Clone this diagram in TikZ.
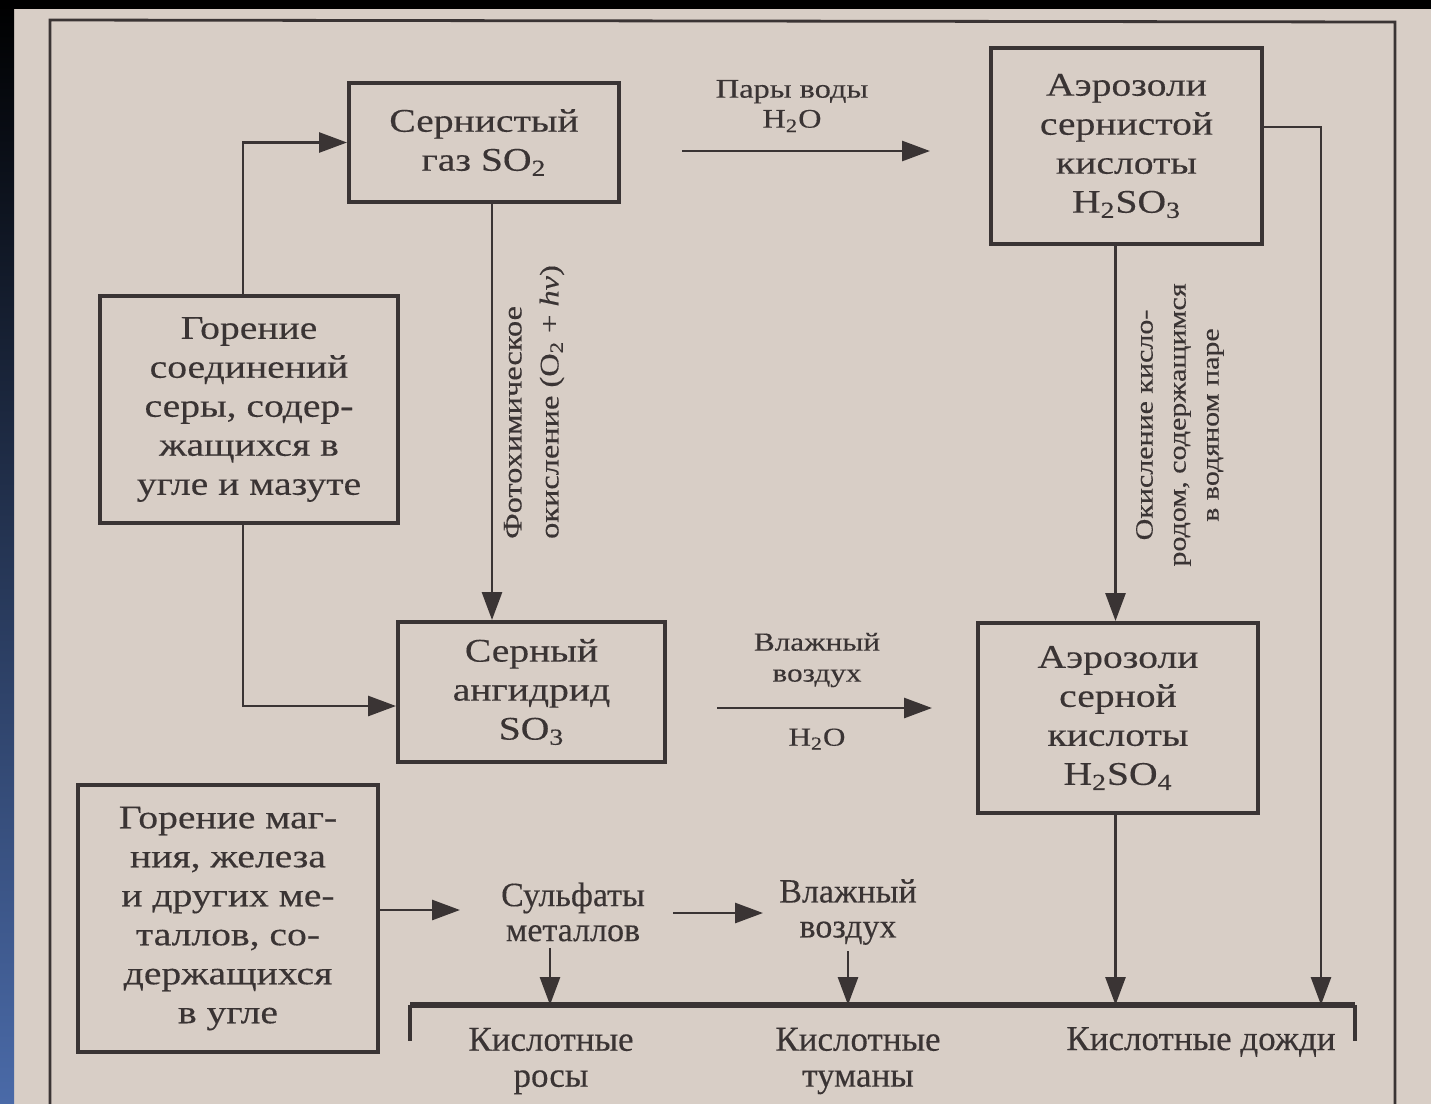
\documentclass[tikz,border=0pt]{standalone}
\usepackage{fontspec}
\setmainfont{Liberation Serif}[FakeStretch=1.2, FakeBold=0.3]
\newfontfamily\plainserif{Liberation Serif}[FakeBold=0.3]
\usetikzlibrary{arrows.meta,calc}
\definecolor{paper}{HTML}{D8CEC6}
\definecolor{ink}{HTML}{3A3434}
\definecolor{edgeblue}{HTML}{4A6AA8}
\newcommand\fboxtxt{\fontsize{16.5pt}{19.5pt}\selectfont}
\newcommand\fmidtxt{\fontsize{13.5pt}{15pt}\selectfont}
\newcommand\fphototxt{\fontsize{13.5pt}{18.5pt}\selectfont}
\newcommand\foxtxt{\fontsize{12.5pt}{16.5pt}\selectfont}
\newcommand\fhumtxt{\fontsize{13pt}{15.5pt}\selectfont}
\newcommand\flabtxt{\plainserif\fontsize{17pt}{17.5pt}\selectfont}
\newcommand\fbottxt{\plainserif\fontsize{17.5pt}{18pt}\selectfont}
\begin{document}
\begin{tikzpicture}[x=0.5pt,y=-0.5pt,
  box/.style={draw=ink, line width=2pt, align=center, inner sep=0pt, text=ink, font=\fboxtxt},
  lbl/.style={align=center, inner sep=0pt, text=ink},
  arr/.style={draw=ink, line width=1.4pt, -{Triangle[length=14pt,width=10pt]}},
  conn/.style={draw=ink, line width=1.4pt}]
\useasboundingbox (0,0) rectangle (1431,1104);
\fill[paper] (0,0) rectangle (1431,1104);
\shade[top color=black, bottom color=edgeblue] (0,0) rectangle (14,1104);
\fill[black] (0,0) rectangle (1431,9);
% frame
\draw[ink, line width=1.4pt] (50,1104) -- (50,20) -- (1395,22) -- (1395,1104);

% boxes
\node[box, minimum width=135pt, minimum height=59.5pt] (so2) at (484,142.5) {Сернистый\\газ SO\textsubscript{2}};
\node[box, minimum width=135.5pt, minimum height=98pt] (h2so3) at (1126.5,146) {Аэрозоли\\сернистой\\кислоты\\H\textsubscript{2}SO\textsubscript{3}};
\node[box, minimum width=149pt, minimum height=113.5pt] (burn) at (249,409.5) {Горение\\соединений\\серы, содер-\\жащихся в\\угле и мазуте};
\node[box, minimum width=133.5pt, minimum height=70pt] (so3) at (531.5,692) {Серный\\ангидрид\\SO\textsubscript{3}};
\node[box, minimum width=140pt, minimum height=95pt] (h2so4) at (1118,718) {Аэрозоли\\серной\\кислоты\\H\textsubscript{2}SO\textsubscript{4}};
\node[box, minimum width=150pt, minimum height=133.5pt] (metal) at (228,918.5) {Горение маг-\\ния, железа\\и других ме-\\таллов, со-\\держащихся\\в угле};

% labels
\node[lbl, font=\fmidtxt] (vapor) at (792,106) {Пары воды\\H\textsubscript{2}O};
\node[lbl, rotate=90, font=\fphototxt, align=left] (photo) at (534,402) {Фотохимическое\\окисление (O\textsubscript{2} + \textit{hν})};
\node[lbl, rotate=90, font=\foxtxt] (oxid) at (1180,425) {Окисление кисло-\\родом, содержащимся\\в водяном паре};
\node[lbl, font=\fhumtxt] (humid1) at (817,660) {Влажный\\воздух};
\node[lbl, font=\fhumtxt] (water2) at (817,739) {H\textsubscript{2}O};
\node[lbl, font=\flabtxt] (sulf) at (573,912) {Сульфаты\\металлов};
\node[lbl, font=\flabtxt] (humid2) at (848,912) {Влажный\\воздух};
\node[lbl, font=\fbottxt] (dew) at (551,1061) {Кислотные\\росы};
\node[lbl, font=\fbottxt] (fog) at (858,1061) {Кислотные\\туманы};
\node[lbl, font=\fbottxt] (rain) at (1201,1042) {Кислотные дожди};

% named coordinates
\coordinate (barL) at (410,1005);
\coordinate (barR) at (1355,1005);
\coordinate (a4s) at (682,151);
\coordinate (a4e) at (930,151);
\coordinate (a7s) at (717,708);
\coordinate (a7e) at (932,708);
\coordinate (a9e) at (460,910);
\coordinate (a10s) at (673,913);
\coordinate (a10e) at (763,913);
\coordinate (r6) at (1321,1005);

% bottom bar
\draw[ink, line width=3pt] (barL) -- (barR);
\draw[ink, line width=2pt] (barL) -- ++(0,36);
\draw[ink, line width=2pt] (barR) -- ++(0,36);

% connectors
\draw[arr] ($(burn.north)+(-6,0)$) |- (so2.west);
\draw[arr] ($(burn.south)+(-6,0)$) |- ($(so3.west)+(0,14)$);
\draw[arr] ($(so2.south)+(8,0)$) coordinate (p) -- (p |- so3.north);
\draw[arr] (a4s) -- (a4e);
\draw[arr] ($(h2so3.south)+(-11,0)$) coordinate (q) -- (q |- h2so4.north);
\draw[arr] ($(h2so3.east)+(0,-19)$) -| (r6);
\draw[arr] (a7s) -- (a7e);
\draw[arr] (q |- h2so4.south) -- (q |- barL);
\draw[arr] (metal.east |- a9e) -- (a9e);
\draw[arr] (a10s) -- (a10e);
\draw[arr] ($(sulf.south)+(-23,6)$) coordinate (s1) -- (s1 |- barL);
\draw[arr] ($(humid2.south)+(0,6)$) coordinate (s2) -- (s2 |- barL);
\end{tikzpicture}
\end{document}
